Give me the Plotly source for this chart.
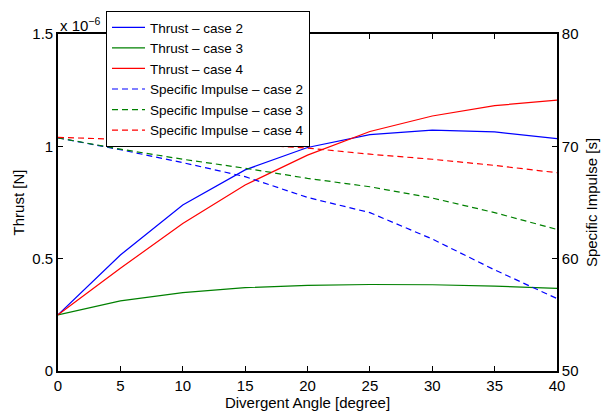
import plotly.graph_objects as go

# Divergent half-angle of the nozzle [degree]
angles = [0, 5, 10, 15, 20, 25, 30, 35, 40]

# Thrust in units of 1e-6 N
thrust_case2 = [0.25, 0.516, 0.739, 0.895, 0.995, 1.052, 1.072, 1.064, 1.034]
thrust_case3 = [0.25, 0.312, 0.349, 0.371, 0.381, 0.385, 0.384, 0.378, 0.368]
thrust_case4 = [0.25, 0.457, 0.657, 0.828, 0.961, 1.066, 1.135, 1.181, 1.206]

# Specific impulse [s]
isp_case2 = [70.75, 69.7, 68.55, 67.3, 65.45, 64.1, 61.75, 59.0, 56.45]
isp_case3 = [70.75, 69.75, 68.85, 68.05, 67.15, 66.4, 65.4, 64.1, 62.6]
isp_case4 = [70.8, 70.65, 70.45, 70.2, 69.85, 69.3, 68.85, 68.3, 67.65]

thrust_ticks = [0, 0.5, 1, 1.5]
thrust_ticktext = ["0", "0.5", "1", "1.5"]
isp_ticks = [50, 60, 70, 80]
angle_ticks = [0, 5, 10, 15, 20, 25, 30, 35, 40]

BLUE, GREEN, RED = "#0000ff", "#008000", "#ff0000"
FONT = "Liberation Sans, Arial, Helvetica, sans-serif"
DASH = "6px,4px"

fig = go.Figure()
for name, ys, col in [("Thrust – case 2", thrust_case2, BLUE),
                      ("Thrust – case 3", thrust_case3, GREEN),
                      ("Thrust – case 4", thrust_case4, RED)]:
    fig.add_trace(go.Scatter(x=angles, y=ys, name=name, mode="lines",
                             line=dict(color=col, width=1.2), yaxis="y"))
for name, ys, col in [("Specific Impulse – case 2", isp_case2, BLUE),
                      ("Specific Impulse – case 3", isp_case3, GREEN),
                      ("Specific Impulse – case 4", isp_case4, RED)]:
    fig.add_trace(go.Scatter(x=angles, y=ys, name=name, mode="lines",
                             line=dict(color=col, width=1.2, dash=DASH), yaxis="y2"))

axis_common = dict(showline=True, linecolor="black", linewidth=1.6,
                   ticks="inside", ticklen=5, tickcolor="black", tickwidth=1,
                   showgrid=False, zeroline=False, automargin=False,
                   tickfont=dict(family=FONT, size=15, color="black"))
title_font = dict(family=FONT, size=15, color="black")

fig.update_layout(
    width=606, height=411,
    margin=dict(l=58, r=49, t=34, b=40, autoexpand=False),
    paper_bgcolor="white", plot_bgcolor="white",
    font=dict(family=FONT, size=15, color="black"),
    xaxis=dict(range=[0, 40], tickvals=angle_ticks, mirror="ticks",
               title=dict(text="Divergent Angle [degree]", standoff=0, font=title_font),
               **axis_common),
    yaxis=dict(range=[0, 1.5], tickvals=thrust_ticks, ticktext=thrust_ticktext,
               title=dict(text="Thrust [N]", standoff=4, font=title_font),
               **axis_common),
    yaxis2=dict(range=[50, 80], tickvals=isp_ticks, overlaying="y", side="right",
                title=dict(text="Specific Impulse [s]", standoff=9, font=title_font),
                **axis_common),
    legend=dict(x=0.0962, y=1.068, xanchor="left", yanchor="top",
                bgcolor="white", bordercolor="black", borderwidth=1,
                font=dict(family=FONT, size=13.5, color="black"),
                tracegroupgap=0, itemwidth=33),
    showlegend=True,
    annotations=[dict(text="x 10<sup>−6</sup>", xref="paper", yref="paper",
                      x=0.0, y=1.0, xanchor="left", yanchor="bottom", yshift=-2,
                      showarrow=False, font=dict(family=FONT, size=15))],
)

fig.write_html("out.html")
